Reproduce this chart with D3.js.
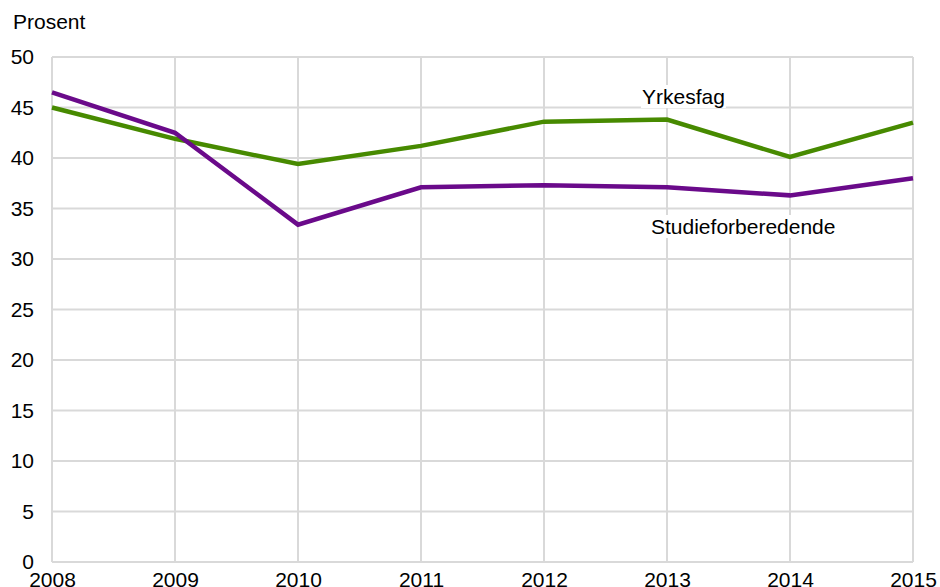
<!DOCTYPE html>
<html><head><meta charset="utf-8">
<script src="https://cdn.jsdelivr.net/npm/d3@7"></script>
<style>body{margin:0;background:#fff}svg{display:block}text{font-family:"Liberation Sans",Arial,sans-serif}</style>
</head><body><svg id="c" width="940" height="587"></svg>
<script>
const years = [2008,2009,2010,2011,2012,2013,2014,2015];
const yrkesfag = [45.0,41.9,39.4,41.2,43.6,43.8,40.1,43.5];
const studie = [46.5,42.5,33.4,37.1,37.3,37.1,36.3,38.0];
const yTicks = [0,5,10,15,20,25,30,35,40,45,50];
const yLabel = "Prosent";
const seriesNames = ["Yrkesfag","Studieforberedende"];
const FS = 21;

const svg = d3.select("#c");
const x = d3.scaleLinear().domain([2008,2015]).range([52,913]);
const y = d3.scaleLinear().domain([0,50]).range([562,57]);

const grid = svg.append("g");
grid.selectAll("line.h").data(yTicks).join("line")
  .attr("x1",52).attr("x2",913).attr("y1",d=>y(d)).attr("y2",d=>y(d))
  .attr("stroke","#d9d9d9").attr("stroke-width",2);
grid.selectAll("line.v").data(years).join("line")
  .attr("y1",57).attr("y2",562).attr("x1",d=>x(d)).attr("x2",d=>x(d))
  .attr("stroke","#d9d9d9").attr("stroke-width",2);

const yAxis = svg.append("g").attr("transform","translate(52,0)")
  .call(d3.axisLeft(y).tickValues(yTicks).tickSize(0).tickPadding(18));
yAxis.select(".domain").remove();
yAxis.selectAll("text").attr("font-size",FS).attr("fill","#000");

const xAxis = svg.append("g").attr("transform","translate(0,562)")
  .call(d3.axisBottom(x).tickValues(years).tickFormat(d3.format("d")).tickSize(0).tickPadding(10));
xAxis.select(".domain").remove();
xAxis.selectAll("text").attr("font-size",FS).attr("fill","#000");

svg.append("text").attr("x",13).attr("y",29).attr("font-size",FS).text(yLabel);

const line = d3.line().x((d,i)=>x(years[i])).y(d=>y(d));
svg.append("path").datum(yrkesfag).attr("d",line).attr("fill","none")
  .attr("stroke","#478a00").attr("stroke-width",4.5);
svg.append("path").datum(studie).attr("d",line).attr("fill","none")
  .attr("stroke","#6a0a8a").attr("stroke-width",4.5);

const lab1 = svg.append("g");
const t1 = lab1.append("text").attr("x",642).attr("y",104).attr("font-size",FS).text(seriesNames[0]);
const b1 = t1.node().getBBox();
lab1.insert("rect","text").attr("x",b1.x-1).attr("y",b1.y).attr("width",b1.width+2).attr("height",b1.height).attr("fill","#fff");
const lab2 = svg.append("g");
const t2 = lab2.append("text").attr("x",651).attr("y",234).attr("font-size",FS).text(seriesNames[1]);
const b2 = t2.node().getBBox();
lab2.insert("rect","text").attr("x",b2.x-1).attr("y",b2.y).attr("width",b2.width+2).attr("height",b2.height).attr("fill","#fff");
</script></body></html>
